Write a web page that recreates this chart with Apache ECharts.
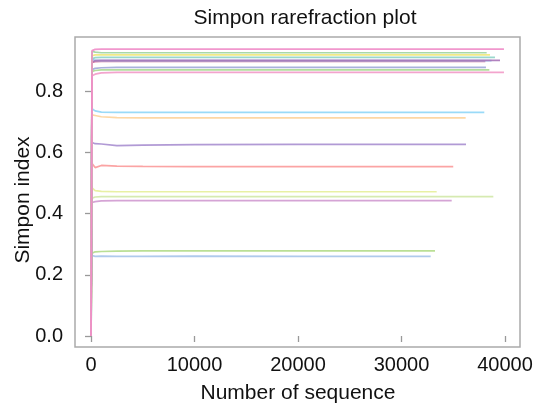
<!DOCTYPE html>
<html>
<head>
<meta charset="utf-8">
<script src="https://cdn.jsdelivr.net/npm/echarts@6/dist/echarts.min.js"></script>
<style>html,body{margin:0;padding:0;background:#fff}#c{width:536px;height:406px}</style>
</head>
<body>
<div id="c"></div>
<script>
// Sample sizes for the early part of every curve
var sampleX = [0, 100, 400, 1000, 2500, 5000, 10000, 20000];
// Tick labels
var xTicks = [0, 10000, 20000, 30000, 40000];
var yTicks = [0, 0.2, 0.4, 0.6, 0.8];
// Per-sample Simpson values at sampleX, then the final depth and plateau value
var sampleNames = ['S1','S2','S3','S4','S5','S6','S7','S8','S9','S10','S11','S12','S13','S14','S15','S16','S17','S18','S19'];
var sampleColors = ['#a6c4ea','#b2dc8a','#d09ad0','#d2e8a8','#e6ee9a','#fb9a9a','#a88fd0','#fdd39a','#8fd6f7',
                    '#a8d890','#9fa8d8','#d06a9c','#8fc8ee','#a874b8','#8fd3c8','#f0e87a','#9fd4a0','#f29ac8','#f08cc8'];
var v1  = [0, 0.263, 0.260, 0.261, 0.260, 0.260, 0.261, 0.260];
var v2  = [0, 0.270, 0.275, 0.276, 0.277, 0.278, 0.278, 0.278];
var v3  = [0, 0.436, 0.439, 0.441, 0.442, 0.442, 0.442, 0.442];
var v4  = [0, 0.450, 0.454, 0.455, 0.455, 0.455, 0.455, 0.455];
var v5  = [0, 0.484, 0.475, 0.472, 0.471, 0.471, 0.471, 0.471];
var v6  = [0, 0.563, 0.550, 0.557, 0.555, 0.554, 0.553, 0.553];
var v7  = [0, 0.632, 0.628, 0.627, 0.622, 0.623, 0.625, 0.626];
var v8  = [0, 0.722, 0.720, 0.716, 0.713, 0.712, 0.712, 0.712];
var v9  = [0, 0.742, 0.735, 0.731, 0.730, 0.730, 0.730, 0.730];
var v10 = [0, 0.864, 0.867, 0.869, 0.869, 0.869, 0.869, 0.869];
var v11 = [0, 0.870, 0.874, 0.876, 0.877, 0.877, 0.877, 0.877];
var v12 = [0, 0.893, 0.896, 0.897, 0.897, 0.897, 0.897, 0.897];
var v13 = [0, 0.905, 0.900, 0.899, 0.899, 0.899, 0.899, 0.899];
var v14 = [0, 0.895, 0.899, 0.900, 0.900, 0.900, 0.900, 0.900];
var v15 = [0, 0.905, 0.909, 0.910, 0.910, 0.910, 0.910, 0.910];
var v16 = [0, 0.915, 0.918, 0.918, 0.918, 0.918, 0.918, 0.918];
var v17 = [0, 0.930, 0.927, 0.925, 0.925, 0.925, 0.925, 0.925];
var v18 = [0, 0.850, 0.855, 0.859, 0.861, 0.861, 0.861, 0.861];
var v19 = [0, 0.932, 0.936, 0.937, 0.937, 0.937, 0.937, 0.937];
var sampleValues = [v1,v2,v3,v4,v5,v6,v7,v8,v9,v10,v11,v12,v13,v14,v15,v16,v17,v18,v19];
var finalDepth = [32820, 33240, 34850, 38870, 33400, 35000, 36230, 36200, 38000,
                  38490, 38160, 38100, 38700, 39520, 39030, 38550, 38230, 39900, 39900];
var finalValue = [0.260, 0.278, 0.442, 0.455, 0.471, 0.553, 0.626, 0.712, 0.730,
                  0.869, 0.877, 0.897, 0.899, 0.900, 0.910, 0.918, 0.925, 0.861, 0.937];

var font = 'Liberation Sans, Arial, Helvetica, sans-serif';
var series = sampleNames.map(function (n, i) {
  var d = sampleX.map(function (x, j) { return [x, sampleValues[i][j]]; });
  d.push([finalDepth[i], finalValue[i]]);
  return {
    name: n, type: 'line', data: d, showSymbol: false, symbol: 'none',
    lineStyle: { color: sampleColors[i], width: 1.7, opacity: 0.9 },
    silent: true, animation: false
  };
});

var chart = echarts.init(document.getElementById('c'), null, { renderer: 'canvas' });
chart.setOption({
  animation: false,
  backgroundColor: '#fff',
  title: {
    text: 'Simpon rarefraction plot', left: 300, top: 3, textAlign: 'center',
    textStyle: { fontFamily: font, fontSize: 21, fontWeight: 'normal', color: '#111' }
  },
  grid: { left: 75, right: 16, top: 37, bottom: 59, show: true, borderColor: '#aaaaaa', borderWidth: 1.5, backgroundColor: '#fff' },
  xAxis: {
    type: 'value', min: -1546, max: 41450,
    splitLine: { show: false },
    axisLine: { show: false },
    axisTick: { show: true, length: 6, lineStyle: { color: '#999', width: 1.3 }, customValues: xTicks },
    axisLabel: { customValues: xTicks, fontFamily: font, fontSize: 20, color: '#111', margin: 8,
                 formatter: function (v) { return String(v); } }
  },
  yAxis: {
    type: 'value', min: -0.0359, max: 0.9764,
    splitLine: { show: false },
    axisLine: { show: false },
    axisTick: { show: true, length: 6, lineStyle: { color: '#999', width: 1.3 }, customValues: yTicks },
    axisLabel: { customValues: yTicks, fontFamily: font, fontSize: 20, color: '#111', margin: 12,
                 formatter: function (v) { return v.toFixed(1); } }
  },
  graphic: [
    { type: 'text', x: 298, y: 393, style: { text: 'Number of sequence', textAlign: 'center', textVerticalAlign: 'middle', font: '21px ' + font, fill: '#111' } },
    { type: 'text', rotation: Math.PI / 2, x: 23, y: 200, style: { text: 'Simpon index', textAlign: 'center', textVerticalAlign: 'middle', font: '21px ' + font, fill: '#111' } }
  ],
  series: series
});
</script>
</body>
</html>
